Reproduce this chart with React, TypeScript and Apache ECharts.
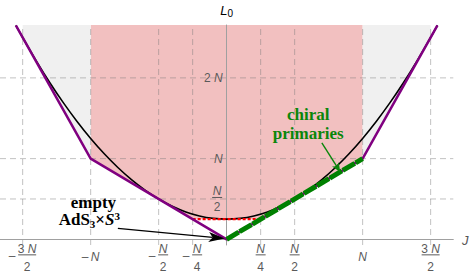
import React, { useEffect, useRef } from 'react';
import * as echarts from 'echarts';

// axis ranges in units of N
const X_MIN = -5 / 3;
const X_MAX = 5 / 3;
const Y_MIN = -0.07;
const Y_MAX = 2.655;

const xGridValues = [-1.5, -1, -0.5, -0.25, 0.25, 0.5, 1, 1.5];
const yGridValues = [0.5, 1, 2];

const xTickNum = ['3 N', 'N', 'N', 'N', 'N', 'N', 'N', '3 N'];
const xTickDen = ['2', '', '2', '4', '4', '2', '', '2'];
const xTickNeg = [true, true, true, true, false, false, false, false];

const yTickValues = [0.5, 1, 2];
const yTickNum = ['N', 'N', '2 N'];
const yTickDen = ['2', '', ''];

// black threshold curve
const curveJ = [-1.55, -1.5, -1.4, -1.3, -1.2, -1.1, -1.0, -0.9, -0.8, -0.7, -0.6, -0.5, -0.4, -0.3, -0.2, -0.1, 0, 0.1, 0.2, 0.3, 0.4, 0.5, 0.6, 0.7, 0.8, 0.9, 1.0, 1.1, 1.2, 1.3, 1.4, 1.5, 1.55];
const curveL = [2.65, 2.5, 2.21, 1.94, 1.69, 1.46, 1.25, 1.06, 0.89, 0.74, 0.61, 0.5, 0.41, 0.34, 0.29, 0.26, 0.25, 0.26, 0.29, 0.34, 0.41, 0.5, 0.61, 0.74, 0.89, 1.06, 1.25, 1.46, 1.69, 1.94, 2.21, 2.5, 2.65];

// purple bound
const purpleJ = [-1.55, -1, 0, 1, 1.55];
const purpleL = [2.65, 1, 0, 1, 2.65];

// green chiral primaries line
const greenJ = [0, 1];
const greenL = [0, 1];

// red dotted segment
const redJ = [-0.25, 0.25];
const redL = [0.25, 0.25];

// shaded regions
const pinkJ = [-1, -1, -0.25, 0.25, 1, 1];
const pinkL = [2.66, 1, 0.25, 0.25, 1, 2.66];
const grayLeftJ = [-1.5, -1.5, -1, -1];
const grayLeftL = [2.66, 2.5, 1, 2.66];
const grayRightJ = [1.5, 1.5, 1, 1];
const grayRightL = [2.66, 2.5, 1, 2.66];

const PINK = '#f2c0c0';
const GRAY = '#f0f0f0';
const TICK_COLOR = '#5a5a5a';
const GREEN = '#0a860a';
const SANS = 'Liberation Sans, Arial, sans-serif';

const zip = (a: number[], b: number[]) => a.map((v, i) => [v, b[i]]);

function arrow(from: number[], tip: number[], len: number, hw: number, color: string, lw: number) {
  const dx = tip[0] - from[0];
  const dy = tip[1] - from[1];
  const d = Math.hypot(dx, dy);
  const ux = dx / d;
  const uy = dy / d;
  const bx = tip[0] - ux * len;
  const by = tip[1] - uy * len;
  const nx = tip[0] - ux * len * 0.75;
  const ny = tip[1] - uy * len * 0.75;
  return [
    {
      type: 'line',
      shape: { x1: from[0], y1: from[1], x2: nx, y2: ny },
      style: { stroke: color, lineWidth: lw },
      z: 20,
    },
    {
      type: 'polygon',
      shape: { points: [[tip[0], tip[1]], [bx - uy * hw, by + ux * hw], [nx, ny], [bx + uy * hw, by - ux * hw]] },
      style: { fill: color },
      z: 20,
    },
  ];
}

export default function App() {
  const ref = useRef<HTMLDivElement>(null);
  useEffect(() => {
    if (!ref.current) return;
    const chart = echarts.init(ref.current, undefined, { renderer: 'svg' });
    const regions = [
      { J: pinkJ, L: pinkL, color: PINK },
      { J: grayLeftJ, L: grayLeftL, color: GRAY },
      { J: grayRightJ, L: grayRightL, color: GRAY },
    ];
    const gridSpecs = [
      ...xGridValues.map((v) => ({ dir: 'v', v })),
      ...yGridValues.map((v) => ({ dir: 'h', v })),
    ];
    chart.setOption({
      animation: false,
      grid: { left: 0, right: 472 - 453.3, top: 25, bottom: 273 - 245, containLabel: false },
      xAxis: {
        type: 'value', min: X_MIN, max: X_MAX, z: 3,
        axisLine: { show: true, onZero: true, lineStyle: { color: '#a0a0a0', width: 1 } },
        axisTick: { show: false }, axisLabel: { show: false }, splitLine: { show: false },
      },
      yAxis: {
        type: 'value', min: Y_MIN, max: Y_MAX, z: 3,
        axisLine: { show: true, onZero: true, lineStyle: { color: '#a0a0a0', width: 1 } },
        axisTick: { show: false }, axisLabel: { show: false }, splitLine: { show: false },
      },
      series: [
        {
          type: 'custom', z: 1, silent: true, clip: true,
          data: regions.map((r, i) => [r.J[0], r.L[0], i]),
          renderItem: (params: any, api: any) => {
            const r = regions[params.dataIndex];
            const pts = r.J.map((j, k) => api.coord([j, r.L[k]]));
            return { type: 'polygon', shape: { points: pts }, style: { fill: r.color } };
          },
        },
        {
          type: 'custom', z: 2, silent: true,
          data: gridSpecs.map((g, i) => [g.dir === 'v' ? g.v : 0, g.dir === 'h' ? g.v : 0, i]),
          renderItem: (params: any, api: any) => {
            const g = gridSpecs[params.dataIndex];
            const a = g.dir === 'v' ? api.coord([g.v, Y_MIN]) : api.coord([X_MIN, g.v]);
            const b = g.dir === 'v' ? api.coord([g.v, Y_MAX]) : api.coord([X_MAX, g.v]);
            return {
              type: 'line',
              shape: { x1: a[0], y1: a[1], x2: b[0], y2: b[1] },
              style: { stroke: 'rgba(120,120,120,0.45)', lineWidth: 1, lineDash: [6, 4] },
            };
          },
        },
        {
          type: 'line', z: 4, data: zip(curveJ, curveL), showSymbol: false, smooth: 0.4,
          lineStyle: { color: '#000', width: 1.6 },
        },
        {
          type: 'line', z: 4, data: zip(redJ, redL), showSymbol: false,
          lineStyle: { color: '#ff0000', width: 2.2, type: [3, 2] },
        },
        {
          type: 'line', z: 5, data: zip(purpleJ, purpleL), showSymbol: false,
          lineStyle: { color: '#800080', width: 2.5 },
        },
        {
          type: 'line', z: 6, data: zip(greenJ, greenL), showSymbol: false,
          lineStyle: { color: '#008000', width: 5, type: [14, 1], cap: 'butt' },
        },
      ],
    });

    const px = (j: number, l: number) => chart.convertToPixel({ gridIndex: 0 }, [j, l]) as number[];
    const g: any[] = [];
    const rich = {
      n: { fontSize: 12, fontFamily: SANS, color: TICK_COLOR },
      i: { fontSize: 12, fontFamily: SANS, color: TICK_COLOR, fontStyle: 'italic' },
    };
    const numText = (s: string) => (s.startsWith('3') ? '{n|3 }{i|N}' : s.startsWith('2') ? '{n|2 }{i|N}' : '{i|N}');
    const txt = (x: number, y: number, text: string, align = 'center') => ({
      type: 'text', x, y, z: 10,
      style: { text, rich, textAlign: align, textVerticalAlign: 'middle', fill: TICK_COLOR, fontSize: 12, fontFamily: SANS },
    });

    xGridValues.forEach((v, i) => {
      const [cx, cy] = px(v, 0);
      const neg = xTickNeg[i];
      const w = xTickNum[i].length > 1 ? 18 : 10;
      const fx = cx + (neg ? 4.5 : 0);
      if (xTickDen[i]) {
        g.push(txt(fx, cy + 9.5, numText(xTickNum[i])));
        g.push({ type: 'line', z: 10, shape: { x1: fx - w / 2, y1: cy + 15.5, x2: fx + w / 2, y2: cy + 15.5 }, style: { stroke: TICK_COLOR, lineWidth: 1 } });
        g.push(txt(fx, cy + 27.5, `{n|${xTickDen[i]}}`));
        if (neg) g.push(txt(fx - w / 2 - 6, cy + 16.5, '{n|–}'));
      } else {
        g.push(txt(fx, cy + 17.5, numText(xTickNum[i])));
        if (neg) g.push(txt(cx - 5.5, cy + 17.5, '{n|–}'));
      }
    });

    yTickValues.forEach((v, i) => {
      const [cx, cy] = px(0, v);
      if (yTickDen[i]) {
        const fx = cx - 9.5;
        g.push(txt(fx, cy - 7.5, numText(yTickNum[i])));
        g.push({ type: 'line', z: 10, shape: { x1: fx - 5, y1: cy - 1.5, x2: fx + 5, y2: cy - 1.5 }, style: { stroke: TICK_COLOR, lineWidth: 1 } });
        g.push(txt(fx, cy + 8.5, `{n|${yTickDen[i]}}`));
      } else {
        g.push(txt(cx - 4, cy, numText(yTickNum[i]), 'right'));
      }
    });

    // axis names
    const [ox] = px(0, Y_MAX);
    g.push({
      type: 'text', x: ox, y: 10, z: 10,
      style: {
        text: '{L|L}{s|0}', textAlign: 'center', textVerticalAlign: 'middle',
        rich: {
          L: { fontSize: 13, fontStyle: 'italic', fontFamily: SANS, color: '#555', lineHeight: 16, verticalAlign: 'middle' },
          s: { fontSize: 10, fontFamily: SANS, color: '#555', lineHeight: 10, verticalAlign: 'bottom' },
        },
      },
    });
    const [jx, jy] = px(X_MAX, 0);
    g.push({
      type: 'text', x: jx + 12, y: jy + 1, z: 10,
      style: { text: 'J', textAlign: 'center', textVerticalAlign: 'middle', fontSize: 13, fontStyle: 'italic', fontFamily: SANS, fill: '#555' },
    });

    // annotations
    const serif = 'Liberation Serif, Times New Roman, serif';
    const cp1 = px(0.6, 1.55);
    const cp2 = px(0.6, 1.315);
    g.push({
      type: 'text', x: cp1[0], y: cp1[1], z: 20,
      style: { text: 'chiral', textAlign: 'center', textVerticalAlign: 'middle', fontSize: 17, lineHeight: 16, fontWeight: 'bold', fontFamily: serif, fill: GREEN },
    });
    g.push({
      type: 'text', x: cp2[0], y: cp2[1], z: 20,
      style: { text: 'primaries', textAlign: 'center', textVerticalAlign: 'middle', fontSize: 17, lineHeight: 16, fontWeight: 'bold', fontFamily: serif, fill: GREEN },
    });
    g.push(...arrow(px(0.70, 1.195), px(0.835, 0.835), 9, 4, GREEN, 1.4));

    const ep = px(-0.98, 0.455);
    g.push({
      type: 'text', x: ep[0], y: ep[1], z: 20,
      style: { text: 'empty', textAlign: 'center', textVerticalAlign: 'middle', fontSize: 17, lineHeight: 16, fontWeight: 'bold', fontFamily: serif, fill: '#000' },
    });
    const ap = px(-1.01, 0.24);
    g.push({
      type: 'text', x: ap[0], y: ap[1], z: 20,
      style: {
        text: '{m|AdS}{b|3}{m|×}{it|S}{t|3}', textAlign: 'center', textVerticalAlign: 'middle',
        rich: {
          m: { fontSize: 17, fontWeight: 'bold', fontFamily: serif, color: '#000', lineHeight: 19, verticalAlign: 'middle' },
          it: { fontSize: 17, fontWeight: 'bold', fontStyle: 'italic', fontFamily: serif, color: '#000', lineHeight: 19, verticalAlign: 'middle' },
          b: { fontSize: 11, fontWeight: 'bold', fontFamily: serif, color: '#000', lineHeight: 11, verticalAlign: 'bottom' },
          t: { fontSize: 11, fontWeight: 'bold', fontFamily: serif, color: '#000', lineHeight: 11, verticalAlign: 'top' },
        },
      },
    });
    g.push(...arrow(px(-0.80, 0.135), px(-0.015, 0.01), 16, 5, '#000', 1.2));

    chart.setOption({ graphic: g });
    return () => chart.dispose();
  }, []);
  return <div ref={ref} style={{ position: 'absolute', left: 0, top: 0, width: 472, height: 273 }} />;
}
